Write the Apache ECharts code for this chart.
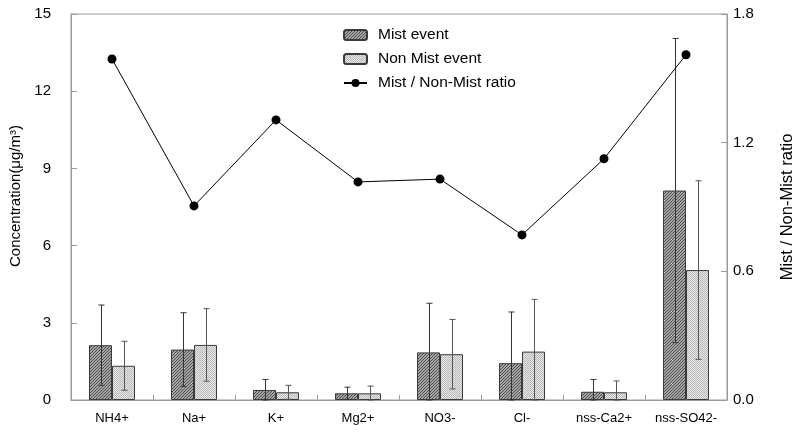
<!DOCTYPE html>
<html>
<head>
<meta charset="utf-8">
<script src="https://cdn.jsdelivr.net/npm/echarts@6/dist/echarts.min.js"></script>
<style>
  html, body { margin: 0; padding: 0; background: #fff; }
  #chart { width: 794px; height: 434px; }
</style>
</head>
<body>
<div id="chart"></div>
<script>
// data
var categories = ['NH4+', 'Na+', 'K+', 'Mg2+', 'NO3-', 'Cl-', 'nss-Ca2+', 'nss-SO42-']
var mist = [2.13, 1.96, 0.39, 0.26, 1.85, 1.43, 0.32, 8.14]
var mistSd = [1.56, 1.43, 0.41, 0.24, 1.91, 1.99, 0.48, 5.91]
var nonMist = [1.33, 2.14, 0.30, 0.26, 1.78, 1.88, 0.30, 5.05]
var nonMistSd = [0.95, 1.41, 0.27, 0.28, 1.35, 2.03, 0.44, 3.47]
var ratio = [1.59, 0.905, 1.306, 1.017, 1.03, 0.77, 1.125, 1.61]

var FONT = 'Liberation Sans, Arial, sans-serif'
var BAR_W = 23

// hatch / dot fill patterns
function makePattern(bg, fg, size, test) {
  var c = document.createElement('canvas')
  c.width = size
  c.height = size
  var ctx = c.getContext('2d')
  ctx.fillStyle = bg
  ctx.fillRect(0, 0, size, size)
  ctx.fillStyle = fg
  for (var x = 0; x < size; x++) {
    for (var y = 0; y < size; y++) {
      if (test(x, y)) ctx.fillRect(x, y, 1, 1)
    }
  }
  return { image: c, repeat: 'repeat' }
}
var hatch = makePattern('#a8a8a8', '#4a4a4a', 3, function (x, y) { return (x + y) % 3 === 2 })
var dots = makePattern('#e8e8e8', '#b8b8b8', 2, function (x, y) { return (x + y) % 2 === 0 })

function errorSeries(name, vals, sds, offset, color) {
  return {
    name: name,
    type: 'custom',
    yAxisIndex: 0,
    z: 5,
    silent: true,
    data: vals.map(function (v, i) { return [i, v, sds[i]] }),
    renderItem: function (params, api) {
      var i = api.value(0)
      var v = api.value(1)
      var sd = api.value(2)
      var hi = api.coord([i, v + sd])
      var lo = api.coord([i, Math.max(0, v - sd)])
      var x = Math.round(hi[0] + offset) + 0.5
      var cap = 3
      var style = { stroke: color, lineWidth: 1 }
      return {
        type: 'group',
        children: [
          { type: 'line', shape: { x1: x, y1: hi[1], x2: x, y2: lo[1] }, style: style },
          { type: 'line', shape: { x1: x - cap, y1: hi[1], x2: x + cap, y2: hi[1] }, style: style },
          { type: 'line', shape: { x1: x - cap, y1: lo[1], x2: x + cap, y2: lo[1] }, style: style }
        ]
      }
    }
  }
}

var chart = echarts.init(document.getElementById('chart'))

var axisLine = { show: true, lineStyle: { color: '#9a9a9a', width: 1 } }

chart.setOption({
  animation: false,
  textStyle: { fontFamily: FONT },
  grid: {
    left: 71, right: 67, top: 14, bottom: 34,
    outerBoundsMode: 'none',
    containLabel: false,
    show: true, borderColor: '#9a9a9a', borderWidth: 1
  },
  legend: {
    orient: 'vertical',
    left: 338,
    top: 22,
    itemWidth: 23,
    itemHeight: 10,
    itemGap: 8,
    textStyle: { fontSize: 15.5, color: '#000', fontFamily: FONT, padding: [0, 0, 0, 6] },
    data: ['Mist event', 'Non Mist event', 'Mist / Non-Mist ratio']
  },
  xAxis: {
    type: 'category',
    data: categories,
    axisLine: axisLine,
    axisTick: { show: true, inside: true, length: 5, lineStyle: { color: '#9a9a9a' } },
    axisLabel: { color: '#000', fontSize: 13, margin: 12, interval: 0 }
  },
  yAxis: [
    {
      type: 'value',
      min: 0, max: 15, interval: 3,
      name: 'Concentration(μg/m³)',
      nameLocation: 'middle',
      nameGap: 42,
      nameTextStyle: { fontSize: 15, color: '#000', padding: [0, 0, 0, 22] },
      axisLine: axisLine,
      axisTick: { show: true, inside: true, length: 6, lineStyle: { color: '#9a9a9a' } },
      axisLabel: { color: '#000', fontSize: 15, margin: 20 },
      splitLine: { show: false }
    },
    {
      type: 'value',
      min: 0, max: 1.8, interval: 0.6,
      name: 'Mist / Non-Mist ratio',
      nameLocation: 'middle',
      nameGap: 52,
      nameRotate: 90,
      nameTextStyle: { fontSize: 16.5, color: '#000' },
      axisLine: axisLine,
      axisTick: { show: true, inside: true, length: 6, lineStyle: { color: '#9a9a9a' } },
      axisLabel: { color: '#000', fontSize: 15, margin: 6, formatter: function (v) { return v.toFixed(1) } },
      splitLine: { show: false }
    }
  ],
  series: [
    {
      name: 'Mist event',
      type: 'bar',
      barWidth: BAR_W,
      barGap: '0%',
      data: mist,
      itemStyle: { color: hatch, borderColor: '#3a3a3a', borderWidth: 1 }
    },
    {
      name: 'Non Mist event',
      type: 'bar',
      barWidth: BAR_W,
      barGap: '0%',
      data: nonMist,
      itemStyle: { color: dots, borderColor: '#3a3a3a', borderWidth: 1 }
    },
    errorSeries('mistErr', mist, mistSd, -BAR_W / 2, '#333'),
    errorSeries('nonMistErr', nonMist, nonMistSd, BAR_W / 2, '#555'),
    {
      name: 'Mist / Non-Mist ratio',
      type: 'line',
      yAxisIndex: 1,
      data: ratio,
      z: 6,
      symbol: 'circle',
      symbolSize: 9,
      lineStyle: { color: '#000', width: 1 },
      itemStyle: { color: '#000' }
    }
  ]
})
</script>
</body>
</html>
